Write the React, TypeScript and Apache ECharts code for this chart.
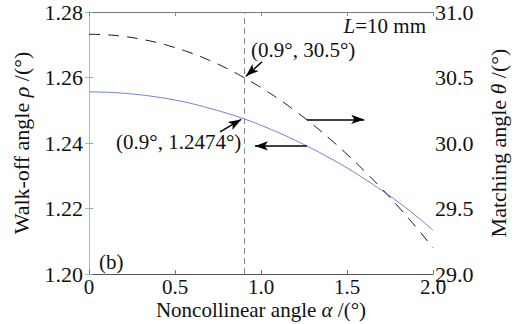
import React, { useEffect, useRef } from "react";
import * as echarts from "echarts";

const alpha = [0, 0.1, 0.2, 0.3, 0.4, 0.5, 0.6, 0.7, 0.8, 0.9, 1.0, 1.1, 1.2, 1.3, 1.4, 1.5, 1.6, 1.7, 1.8, 1.9, 2.0];
const walkOff = [1.2556, 1.2555, 1.2552, 1.2547, 1.254, 1.2531, 1.252, 1.2506, 1.2491, 1.2474, 1.2454, 1.2432, 1.2408, 1.2382, 1.2354, 1.2324, 1.2291, 1.2256, 1.2219, 1.2178, 1.2134];
const matching = [30.83, 30.826, 30.814, 30.793, 30.765, 30.728, 30.684, 30.631, 30.57, 30.5, 30.423, 30.338, 30.244, 30.142, 30.032, 29.914, 29.788, 29.654, 29.511, 29.36, 29.2];
const markAlpha = 0.9;

const FONT = "Liberation Serif";
const TICK = 21;
const TITLE = 21;
const NOTE = 21;

export default function App() {
  const ref = useRef<HTMLDivElement>(null);
  useEffect(() => {
    const chart = echarts.init(ref.current!, null, { renderer: "svg" });
    const arrowLine = (from: number[], to: number[]) => [
      { coord: from, symbol: "none", lineStyle: { color: "#000", width: 1.5, type: "solid" } },
      { coord: to, symbol: "arrow", symbolSize: [7, 13], lineStyle: { color: "#000", width: 1.5, type: "solid" } },
    ];
    const italic = { fontStyle: "italic", fontFamily: FONT, fontSize: TITLE, color: "#111" };
    chart.setOption({
      animation: false,
      backgroundColor: "#fff",
      grid: { left: 89, right: 91, top: 12, bottom: 50, containLabel: false, outerBoundsMode: "none" },
      xAxis: [
        {
          type: "value",
          min: 0,
          max: 2,
          interval: 0.5,
          position: "bottom",
          axisLine: { lineStyle: { color: "#555", width: 1 } },
          axisTick: { inside: true, length: 4, lineStyle: { color: "#777" } },
          axisLabel: {
            color: "#111",
            fontFamily: FONT,
            fontSize: TICK,
            margin: 2,
            formatter: (v: number) => (v === 0 ? "0" : v.toFixed(1)),
          },
          splitLine: { show: false },
          name: "Noncollinear angle {i|α} /(°)",
          nameLocation: "middle",
          nameGap: 25,
          nameMoveOverlap: false,
          nameTextStyle: { color: "#111", fontFamily: FONT, fontSize: TITLE, rich: { i: italic } },
        },
        {
          type: "value",
          min: 0,
          max: 2,
          interval: 0.5,
          position: "top",
          axisLine: { lineStyle: { color: "#777", width: 1 } },
          axisTick: { inside: true, length: 4, lineStyle: { color: "#888" } },
          axisLabel: { show: false },
          splitLine: { show: false },
        },
      ],
      yAxis: [
        {
          type: "value",
          min: 1.2,
          max: 1.28,
          interval: 0.02,
          position: "left",
          axisLine: { show: true, lineStyle: { color: "#8a9ce0", width: 1 } },
          axisTick: { show: true, inside: true, length: 4, lineStyle: { color: "#8a9ce0" } },
          axisLabel: {
            color: "#111",
            fontFamily: FONT,
            fontSize: 22,
            margin: 6,
            formatter: (v: number) => v.toFixed(2),
          },
          splitLine: { show: false },
          name: "Walk-off angle {i|ρ} /(°)",
          nameLocation: "middle",
          nameRotate: 90,
          nameGap: 57,
          nameTextStyle: { color: "#111", fontFamily: FONT, fontSize: 22, rich: { i: { ...italic, fontSize: 22 } } },
        },
        {
          type: "value",
          min: 29,
          max: 31,
          interval: 0.5,
          position: "right",
          axisLine: { show: true, lineStyle: { color: "#a3c89c", width: 1 } },
          axisTick: { show: true, inside: true, length: 4, lineStyle: { color: "#a3c89c" } },
          axisLabel: {
            color: "#111",
            fontFamily: FONT,
            fontSize: 22,
            margin: 2,
            formatter: (v: number) => v.toFixed(1),
          },
          splitLine: { show: false },
          name: "Matching angle {i|θ} /(°)",
          nameLocation: "middle",
          nameRotate: 90,
          nameGap: 54,
          nameTextStyle: { color: "#111", fontFamily: FONT, fontSize: 22, rich: { i: { ...italic, fontSize: 22 } } },
        },
      ],
      series: [
        {
          type: "line",
          name: "walk-off",
          xAxisIndex: 0,
          yAxisIndex: 0,
          data: alpha.map((a, i) => [a, walkOff[i]]),
          showSymbol: false,
          smooth: true,
          lineStyle: { color: "#6a7fd6", width: 1 },
          markLine: {
            silent: true,
            animation: false,
            label: { show: false },
            symbol: ["none", "none"],
            data: [
              [
                { coord: [markAlpha, 1.2], symbol: "none", lineStyle: { color: "#888", width: 1, type: [6, 4] } },
                { coord: [markAlpha, 1.28], symbol: "none", lineStyle: { color: "#888", width: 1, type: [6, 4] } },
              ],
              arrowLine([0.762, 1.2434], [0.885, 1.2472]),
              arrowLine([1.267, 1.2391], [0.965, 1.2391]),
            ],
          },
        },
        {
          type: "line",
          name: "matching",
          xAxisIndex: 0,
          yAxisIndex: 1,
          data: alpha.map((a, i) => [a, matching[i]]),
          showSymbol: false,
          smooth: true,
          lineStyle: { color: "#111", width: 1, type: [11, 8] },
          markLine: {
            silent: true,
            animation: false,
            label: { show: false },
            symbol: ["none", "none"],
            data: [
              arrowLine([1.006, 30.62], [0.912, 30.51]),
              arrowLine([1.267, 30.18], [1.6, 30.18]),
            ],
          },
        },
      ],
      graphic: [
        {
          type: "text",
          right: 98,
          top: 15,
          style: {
            text: "{i|L}=10 mm",
            fill: "#111",
            fontFamily: FONT,
            fontSize: NOTE,
            rich: { i: { fontStyle: "italic", fontFamily: FONT, fontSize: NOTE } },
          },
        },
        {
          type: "text",
          left: 251,
          top: 39,
          style: { text: "(0.9°, 30.5°)", fill: "#111", fontFamily: FONT, fontSize: NOTE },
        },
        {
          type: "text",
          left: 116,
          top: 131,
          style: { text: "(0.9°, 1.2474°)", fill: "#111", fontFamily: FONT, fontSize: NOTE },
        },
        {
          type: "text",
          left: 99,
          top: 251,
          style: { text: "(b)", fill: "#111", fontFamily: FONT, fontSize: NOTE },
        },
      ],
    });
    return () => chart.dispose();
  }, []);
  return <div ref={ref} style={{ position: "fixed", left: 0, top: 0, width: 524, height: 324 }} />;
}
